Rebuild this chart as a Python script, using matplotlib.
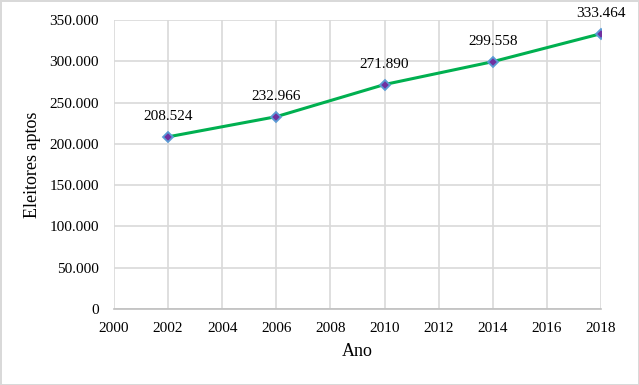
"""Eleitores aptos por ano de eleição."""
import matplotlib
matplotlib.use("Agg")
import matplotlib.pyplot as plt
from matplotlib.ticker import FuncFormatter, MultipleLocator

YEARS = [2002, 2006, 2010, 2014, 2018]
VOTERS = [208524, 232966, 271890, 299558, 333464]
X_LABEL = "Ano"
Y_LABEL = "Eleitores aptos"

GRID = "#D9D9D9"


def br_thousands(v, _pos=None):
    # 350000 -> "350.000"
    return f"{int(round(v)):,}".replace(",", ".")


plt.rcParams["font.family"] = ["Liberation Serif", "DejaVu Serif"]

fig = plt.figure(figsize=(6.39, 3.85), dpi=100)
fig.patch.set_edgecolor(GRID)
fig.patch.set_linewidth(2)
ax = fig.add_axes([0.1784, 0.1974, 0.7621, 0.7506])

ax.plot(YEARS, VOTERS, color="#00B050", lw=2.2, marker="D", ms=5.5,
        mfc="#7030A0", mec="#5B9BD5", mew=1.3, zorder=3)
for x, y in zip(YEARS, VOTERS):
    ax.annotate(br_thousands(y), (x, y), xytext=(0, 14.5), textcoords="offset points",
                ha="center", va="center", fontsize=11)

ax.set_xlim(2000, 2018)
ax.set_ylim(0, 350000)
ax.xaxis.set_major_locator(MultipleLocator(2))
ax.yaxis.set_major_locator(MultipleLocator(50000))
ax.yaxis.set_major_formatter(FuncFormatter(br_thousands))
ax.grid(True, color=GRID, lw=1.2, zorder=0)
ax.set_axisbelow(True)
for side in ("top", "right", "left"):
    ax.spines[side].set_visible(False)
ax.spines["bottom"].set_color("#BFBFBF")
ax.spines["bottom"].set_linewidth(1.2)
ax.tick_params(axis="both", length=0, labelsize=11)
ax.tick_params(axis="y", pad=11)
ax.tick_params(axis="x", pad=9)

ax.set_xlabel(X_LABEL, fontsize=13, labelpad=6)
ax.set_ylabel(Y_LABEL, fontsize=13, labelpad=6)

fig.savefig("out.png", dpi=100)
